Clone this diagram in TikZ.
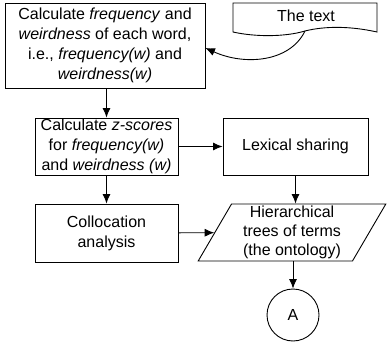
\documentclass[tikz,border=0pt]{standalone}
\usepackage{fontspec}
\setmainfont{Liberation Sans}
\usetikzlibrary{shapes.geometric,arrows.meta}
\begin{document}
\begin{tikzpicture}[
                x=1pt, y=-1pt,
                every node/.style={
                    font=\fontsize{16}{20}\selectfont, align=center
                },
                stepbox/.style={
                    draw, line width=0.9pt, inner sep=0pt
                },
                databox/.style={
                    draw, line width=0.9pt, trapezium, trapezium left angle=63,
                    trapezium right angle=117, trapezium stretches=true,
                    inner sep=0pt, minimum width=188pt, minimum height=57pt
                },
                linknode/.style={
                    draw, line width=0.9pt, circle, minimum size=52pt, inner sep=0pt
                },
                arr/.style={
                    line width=0.9pt, -{Latex[length=9.5pt,width=8pt]}
                }
            ]
            \useasboundingbox (0,0) rectangle (387,344);
            \node[stepbox, minimum width=200pt, minimum height=85pt] (calc) at (105,45.5)
                {Calculate \textit{frequency} and\\ \textit{weirdness} of each word,\\ i.e., \textit{frequency(w)} and\\ \textit{weirdness(w)}};
            \node (doc) at (306,16) {The text};
            \coordinate (docb) at (305,31);
            \node[stepbox, minimum width=143pt, minimum height=57pt] (zs) at (106.5,146.5)
                {Calculate \textit{z-scores}\\ for \textit{frequency(w)}\\ and \textit{weirdness (w)}};
            \node[stepbox, minimum width=145pt, minimum height=57pt] (lex) at (295.5,146.5) {Lexical sharing};
            \node[stepbox, minimum width=143pt, minimum height=58pt] (coll) at (106.5,233) {Collocation\\ analysis};
            \node[databox, font=\fontsize{16}{19}\selectfont] (tree) at (292,232.5) {Hierarchical\\ trees of terms\\ (the ontology)};
            \node[linknode] (A) at (293,315) {A};
            
            % document shape
            \draw[line width=0.9pt] (233,3) -- (377,3) -- (377,32)
                .. controls (350,26) and (325,26) .. (docb)
                .. controls (285,37) and (255,37) .. (233,32) -- cycle;
            
            % arrows
            \draw[arr] (docb) .. controls (290,62) and (245,66) .. ([yshift=-2.5pt]calc.east);
            \draw[arr] (zs.north |- calc.south) -- (zs.north);
            \draw[arr] (zs) -- (lex);
            \draw[arr] (zs) -- (coll);
            \draw[arr] (lex.south) -- (lex.south |- tree.north);
            \draw[arr] (coll) -- (tree);
            \draw[arr] (tree.south -| A.north) -- (A);
            \end{tikzpicture}
\end{document}
